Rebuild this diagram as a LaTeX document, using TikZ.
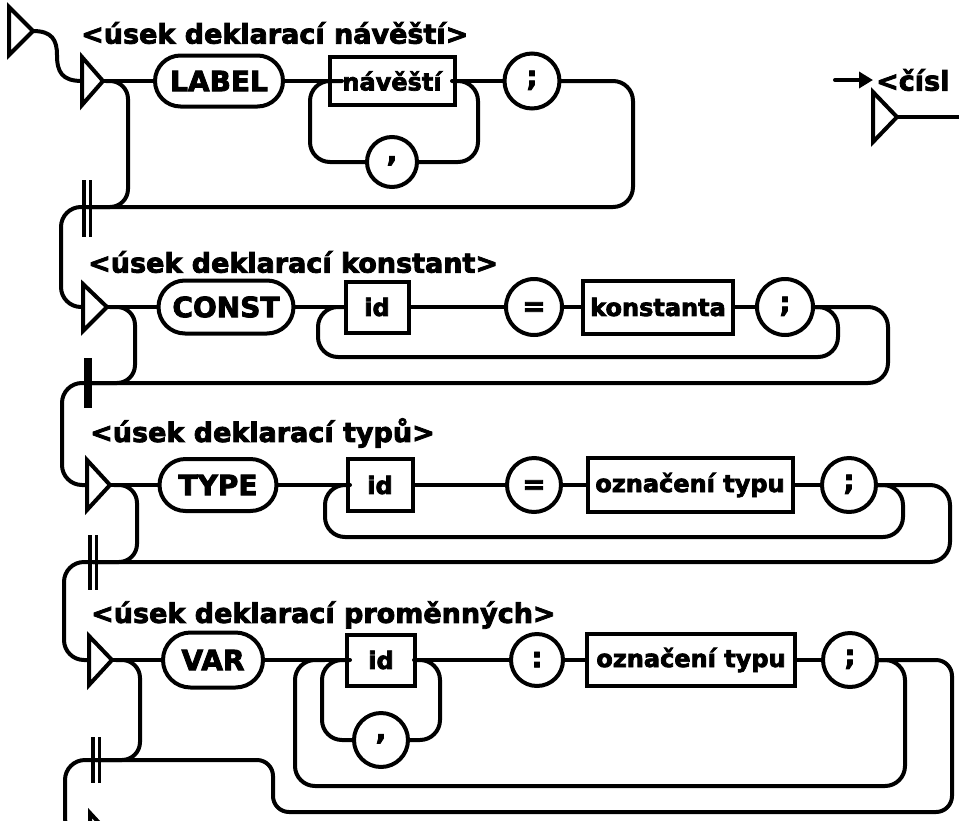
\documentclass[tikz,border=0pt]{standalone}
\usepackage{fontspec}
\setsansfont{DejaVu Sans}
\newfontfamily\hvy{DejaVu Sans}[BoldFeatures={FakeBold=3}]
\usetikzlibrary{shapes.misc,arrows.meta}
\newcommand\kwfnt{\fontsize{28}{28}\selectfont\hvy\bfseries}
\newcommand\bxfnt{\fontsize{24}{24}\selectfont\hvy\bfseries}
\newcommand\syfnt{\fontsize{28}{28}\selectfont\hvy\bfseries}
\newcommand\tlfnt{\fontsize{27}{27}\selectfont\hvy\bfseries}
\begin{document}
\begin{tikzpicture}[x=1pt,y=-1pt,
  ln/.style={line width=4pt, line cap=round},
  tri/.style={line width=4pt, line join=miter, fill=white},
  kw/.style={draw, rounded rectangle, line width=4pt, inner sep=0pt, font=\kwfnt, fill=white},
  bx/.style={draw, rectangle, line width=4pt, inner sep=0pt, font=\bxfnt, fill=white},
  ci/.style={draw, circle, line width=4pt, inner sep=0pt, font=\syfnt, fill=white},
  semsym/.style={ci, text height=10pt, text depth=0pt},
  colsym/.style={ci, text height=14.6pt, text depth=0pt},
  eqsym/.style={ci, text height=17.5pt, text depth=0pt},
  comsym/.style={ci, text height=3pt, text depth=4pt},
  ttl/.style={anchor=west, inner sep=0pt, font=\tlfnt},
  bar/.style={line width=3.2pt},
  rc/.style={rounded corners=20pt},
  rb/.style={rounded corners=18pt}
]
\useasboundingbox (0,0) rectangle (959,820);
\clip (0,0) rectangle (959,820);

% ---------- section 1 ----------
\node[ttl] (t1) at (81,33) {<úsek deklarací návěští>};
\draw[ln] (33,31) .. controls (52,31) and (57,40) .. (57,55) .. controls (57,72) and (62,81) .. (82,81);
\draw[tri] (9,7) -- (33,31) -- (9,55) -- cycle;
\coordinate (a1) at (103,81);
\node[kw, minimum width=128pt, minimum height=51pt] (label) at (219,81) {LABEL};
\node[bx, minimum width=125pt, minimum height=48pt] (nav) at (392,81) {návěští};
\node[semsym, minimum size=55pt] (semi1) at (532,81) {;};
\node[comsym, minimum size=50pt] (com1) at (392,162) {,};
\draw[ln] (a1) -- (label.west);
\draw[ln] (label.east) -- (nav.west);
\draw[ln] (nav.east) -- (semi1.west);
\draw[ln,rc] (342,81) -| (310,162) -- (com1.west);
\draw[ln,rc] (com1.east) -| (478,81) -- (452,81);
\coordinate (j1) at (87,207);
\draw[ln,rc] (semi1.east) -| (633,207) -| (61,307) -- (83,307);
\draw[ln,rb] (106,81) -| (128,207) -- (j1);
\draw[tri] (82,57) -- (103,81) -- (82,105) -- cycle;
\draw[bar] (84,180) -- (84,237);
\draw[bar] (90.5,180) -- (90.5,237);

% ---------- section 2 ----------
\node[ttl] (t2) at (88,262) {<úsek deklarací konstant>};
\coordinate (a2) at (107,307);
\node[kw, minimum width=135pt, minimum height=53pt] (const) at (226,307) {CONST};
\node[bx, minimum width=63pt, minimum height=51pt] (id2) at (377,307) {id};
\node[eqsym, minimum size=56pt] (eq2) at (534,307) {=};
\node[bx, minimum width=150pt, minimum height=53pt] (kon) at (658,307) {konstanta};
\node[semsym, minimum size=56pt] (semi2) at (785,307) {;};
\draw[ln] (a2) -- (const.west);
\draw[ln] (const.east) -- (id2.west);
\draw[ln] (id2.east) -- (eq2.west);
\draw[ln] (eq2.east) -- (kon.west);
\draw[ln] (kon.east) -- (semi2.west);
\draw[ln,rc] (semi2.east) -| (838,357) -| (318,307) -- (345,307);
\coordinate (j2) at (88,383);
\draw[ln,rc] (semi2.east) -| (888,383) -| (62,485) -- (87,485);
\draw[ln,rb] (110,307) -| (135,383) -- (j2);
\draw[tri] (83,284) -- (107,307) -- (83,331) -- cycle;
\draw[line width=8pt] (88,358) -- (88,408);

% ---------- section 3 ----------
\node[ttl] (t3) at (90,433) {<úsek deklarací typů>};
\coordinate (a3) at (110,485);
\node[kw, minimum width=117pt, minimum height=52pt] (type) at (218,485) {TYPE};
\node[bx, minimum width=65pt, minimum height=52pt] (id3) at (380,485) {id};
\node[eqsym, minimum size=54pt] (eq3) at (534,485) {=};
\node[bx, minimum width=205pt, minimum height=54pt] (oz3) at (690,485) {označení typu};
\node[semsym, minimum size=54pt] (semi3) at (849,485) {;};
\draw[ln] (a3) -- (type.west);
\draw[ln] (type.east) -- (id3.west);
\draw[ln] (id3.east) -- (eq3.west);
\draw[ln] (eq3.east) -- (oz3.west);
\draw[ln] (oz3.east) -- (semi3.west);
\draw[ln,rc] (semi3.east) -| (903,537) -| (325,485) -- (350,485);
\coordinate (j3) at (93,562);
\draw[ln,rc] (semi3.east) -| (950,562) -| (64,660) -- (89,660);
\draw[ln,rb] (114,485) -| (137,562) -- (j3);
\draw[tri] (87,460) -- (110,485) -- (87,510) -- cycle;
\draw[bar] (90,535) -- (90,590);
\draw[bar] (96.5,535) -- (96.5,590);

% ---------- section 4 ----------
\node[ttl] (t4) at (91,615) {<úsek deklarací proměnných>};
\coordinate (a4) at (112,660);
\node[kw, minimum width=100pt, minimum height=55pt] (var) at (213,660) {VAR};
\node[bx, minimum width=68pt, minimum height=51pt] (id4) at (381,660) {id};
\node[comsym, minimum size=54pt] (com4) at (381,740) {,};
\node[colsym, minimum size=52pt] (col) at (537,660) {:};
\node[bx, minimum width=208pt, minimum height=52pt] (oz4) at (691,660) {označení typu};
\node[semsym, minimum size=54pt] (semi4) at (850,660) {;};
\draw[ln] (a4) -- (var.west);
\draw[ln] (var.east) -- (id4.west);
\draw[ln] (id4.east) -- (col.west);
\draw[ln] (col.east) -- (oz4.west);
\draw[ln] (oz4.east) -- (semi4.west);
\draw[ln,rc] (350,660) -| (322,740) -- (com4.west);
\draw[ln,rc] (com4.east) -| (440,660) -- (414,660);
\draw[ln,rc] (semi4.east) -| (905,786) -| (295,660) -- (325,660);
\coordinate (j4) at (96,760);
\draw[ln,rounded corners=16pt] (semi4.east) -| (952,812) -| (273,760) -- (j4);
\draw[ln,rc] (j4) -| (65,838) -- (90,838);
\draw[ln,rb] (116,660) -| (140,760) -- (j4);
\draw[tri] (89,636) -- (112,660) -- (89,685) -- cycle;
\draw[bar] (93,737) -- (93,783);
\draw[bar] (99.5,737) -- (99.5,783);
\draw[tri] (90,813) -- (113,838) -- (90,862) -- cycle;

% ---------- top right fragment ----------
\coordinate (ar0) at (835,80);
\coordinate (ar1) at (873,80);
\draw[ln, -{Triangle[length=14pt,width=16pt]}] (ar0) -- (ar1);
\node[ttl] (t5) at (876,80) {<čísl};
\coordinate (a5) at (897,117);
\coordinate (a5e) at (970,117);
\draw[ln] (a5) -- (a5e);
\draw[tri] (873,92) -- (897,117) -- (873,142) -- cycle;
\end{tikzpicture}
\end{document}
